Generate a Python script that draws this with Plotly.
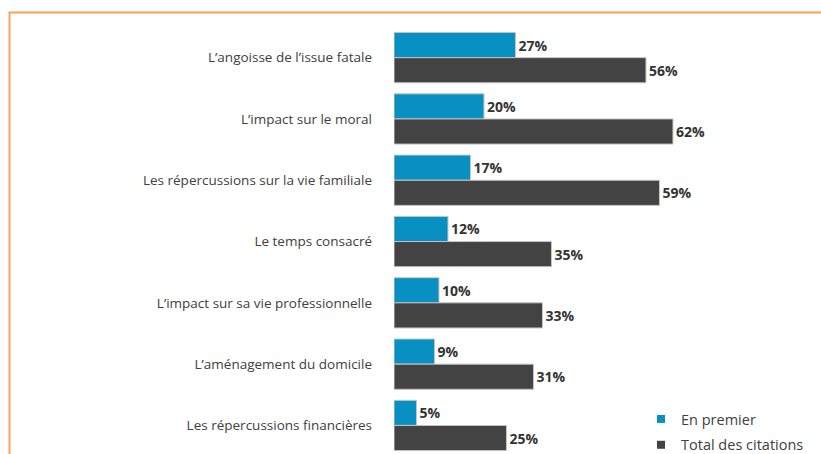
import plotly.graph_objects as go

categories = [
    "L’angoisse de l’issue fatale",
    "L’impact sur le moral",
    "Les répercussions sur la vie familiale",
    "Le temps consacré",
    "L’impact sur sa vie professionnelle",
    "L’aménagement du domicile",
    "Les répercussions financières",
]
en_premier = [27, 20, 17, 12, 10, 9, 5]
total_citations = [56, 62, 59, 35, 33, 31, 25]
series_names = ["En premier", "Total des citations"]
series_colors = ["#0990c2", "#434343"]

FONT = "Open Sans"
H = 470          # figure taller than the 454 window; bottom is cropped
T = 27
PH = H - T
fig = go.Figure()
for vals, name, color in zip([en_premier, total_citations], series_names, series_colors):
    fig.add_trace(go.Bar(
        y=categories, x=vals, orientation="h", name=name,
        marker=dict(color=color, line=dict(color="#c4c4c4", width=1)),
        text=[f"{v}%" for v in vals], textposition="outside",
        textfont=dict(family=FONT, size=14, color="#333333", weight="bold"),
        cliponaxis=False, showlegend=False,
    ))
for i, (name, color) in enumerate(zip(series_names, series_colors)):
    fig.add_trace(go.Scatter(
        x=[None], y=[None], mode="markers", name=name,
        marker=dict(symbol="square", size=8, color=color),
        legendgroup=str(i), showlegend=True,
    ))

fig.update_layout(
    width=821, height=H,
    margin=dict(l=394, r=0, t=T, b=0),
    paper_bgcolor="white", plot_bgcolor="white",
    barmode="group", bargap=0.18, bargroupgap=0.0,
    font=dict(family=FONT, size=13.5, color="#404040"),
    xaxis=dict(range=[0, 94.9], visible=False, fixedrange=True),
    yaxis=dict(
        type="category", categoryorder="array", categoryarray=categories,
        range=[-0.5 + PH / 61.3, -0.5], showgrid=False, zeroline=False,
        showline=False, ticks="", ticklabelstandoff=21, fixedrange=True,
        tickfont=dict(family=FONT, size=13.5, color="#404040"),
    ),
    legend=dict(
        x=(641 - 394) / 427, y=(H - 403) / PH, xanchor="left", yanchor="top",
        font=dict(family=FONT, size=14.5, color="#404040"),
        tracegroupgap=4, bgcolor="rgba(0,0,0,0)", itemwidth=30,
    ),
    showlegend=True,
    shapes=[dict(
        type="rect", xref="paper", yref="paper", layer="below",
        x0=(9.5 - 394) / 427, x1=1.05,
        y0=-0.05, y1=(H - 12.5) / PH,
        line=dict(color="#f7a35c", width=2), fillcolor="rgba(0,0,0,0)",
    )],
)

fig.write_html(
    "out.html",
    config={"displayModeBar": False},
    post_script="document.body.style.margin='0';document.body.style.overflow='hidden';",
)
